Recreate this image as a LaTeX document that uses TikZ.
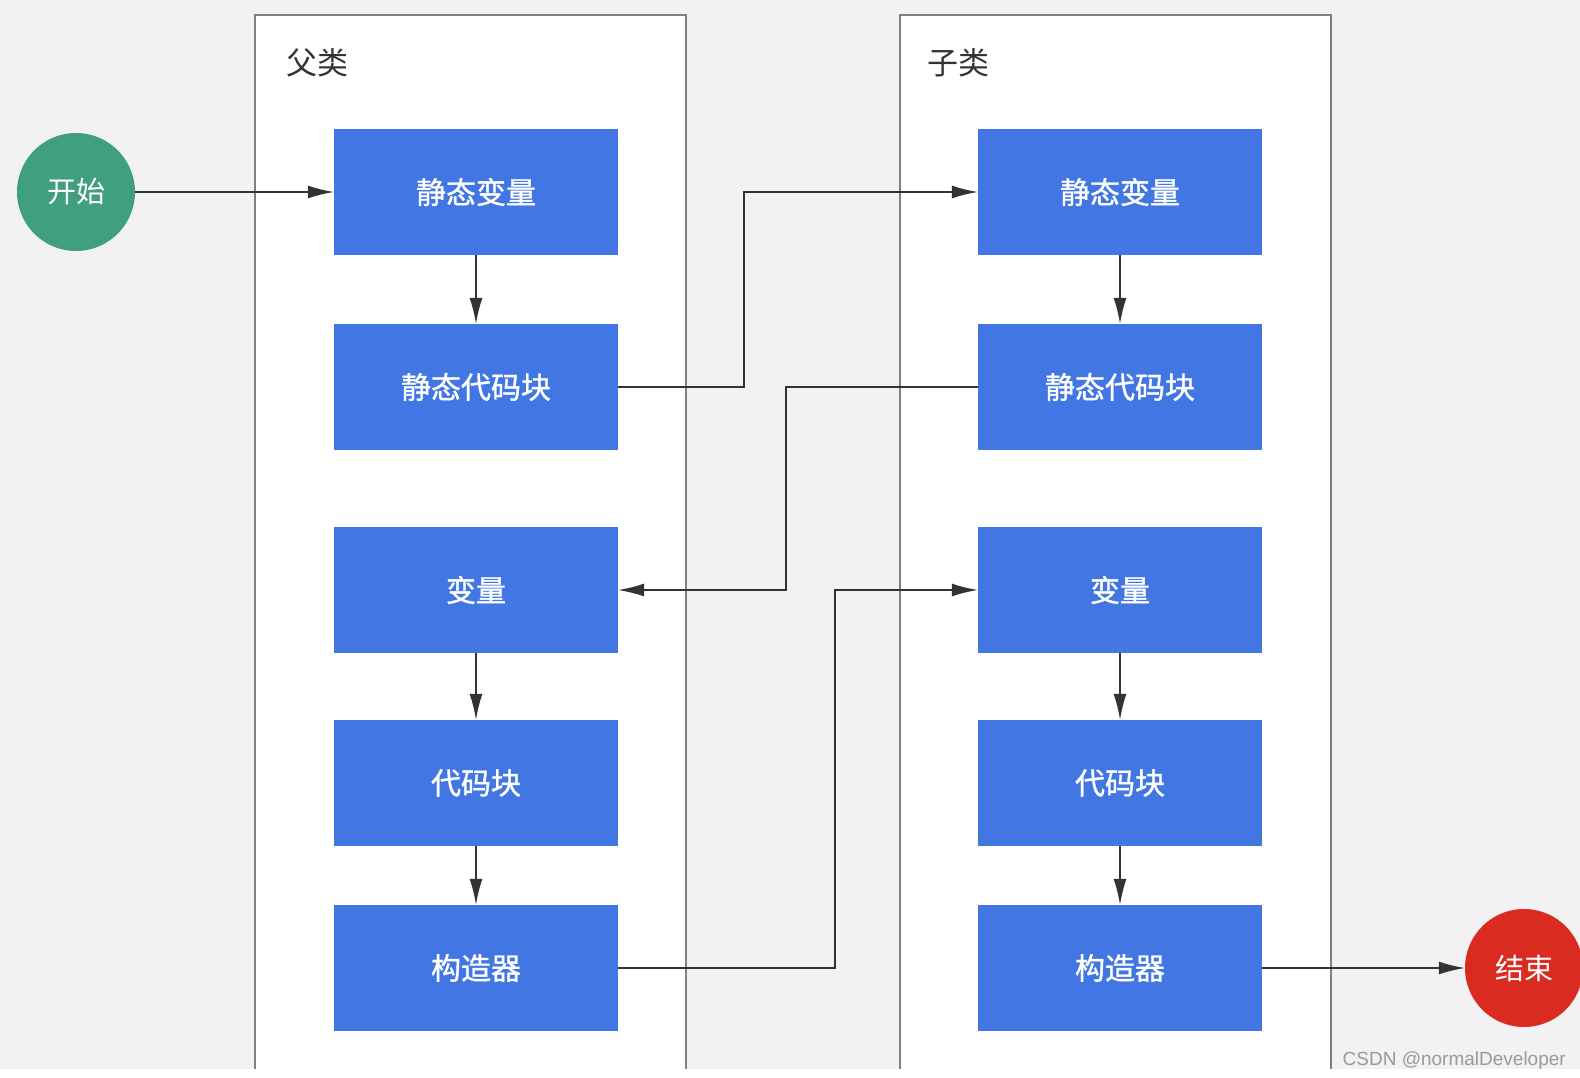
\documentclass[tikz,border=0pt]{standalone}
\usepackage{fontspec}
\setmainfont{Liberation Sans}
\newfontfamily\cjk{Noto Sans CJK SC}
\newfontfamily\cjkgras[FakeBold=1.2]{Noto Sans CJK SC}
\usetikzlibrary{arrows.meta}
\definecolor{fond}{HTML}{F2F2F2}
\definecolor{bleu}{HTML}{4277E3}
\definecolor{vert}{HTML}{3F9F7F}
\definecolor{rouge}{HTML}{D92B20}
\definecolor{trait}{HTML}{333333}
\definecolor{cadre}{HTML}{808080}

\begin{document}
\begin{tikzpicture}[x=1pt, y=-1pt]
\tikzset{bloc/.style={fill=bleu, text=white, minimum width=284pt, minimum height=126pt, inner sep=0pt, font=\cjkgras\fontsize{30}{30}\selectfont}}
\tikzset{rond/.style={circle, text=white, minimum size=118pt, inner sep=0pt, font=\cjk\fontsize{29}{29}\selectfont}}
\tikzset{fleche/.style={draw=trait, line width=1.5pt, -{Latex[length=26pt, width=13pt]}}}
\tikzset{boite/.style={fill=white, draw=cadre, line width=2.5pt}}
\fill[fond] (0, 0) rectangle (1580, 1078);
\fill[white] (0, 1069) rectangle (1580, 1078);
\useasboundingbox (0, 0) rectangle (1580, 1078);
% les deux classes
\filldraw[boite] (255, 1069) -- (255, 15) -- (686, 15) -- (686, 1069);
\filldraw[boite] (900, 1069) -- (900, 15) -- (1331, 15) -- (1331, 1069);
\node[anchor=west, text=trait, font=\cjk\fontsize{31}{31}\selectfont] (pere) at (283, 63) {父类};
\node[anchor=west, text=trait, font=\cjk\fontsize{31}{31}\selectfont] (fils) at (924, 63) {子类};
\node[rond, fill=vert] (debut) at (76, 192) {开始};
\node[rond, fill=rouge] (fin) at (1524, 968) {结束};
\node[bloc] (P1) at (476, 192) {静态变量};
\node[bloc] (P2) at (476, 387) {静态代码块};
\node[bloc] (P3) at (476, 590) {变量};
\node[bloc] (P4) at (476, 783) {代码块};
\node[bloc] (P5) at (476, 968) {构造器};
\node[bloc] (C1) at (1120, 192) {静态变量};
\node[bloc] (C2) at (1120, 387) {静态代码块};
\node[bloc] (C3) at (1120, 590) {变量};
\node[bloc] (C4) at (1120, 783) {代码块};
\node[bloc] (C5) at (1120, 968) {构造器};
\draw[fleche] (debut) -- (P1);
\draw[fleche] (P1) -- (P2);
\draw[fleche] (P2.east) -- (744, 387) |- (C1.west);
\draw[fleche] (C1) -- (C2);
\draw[fleche] (C2.west) -- (786, 387) |- (P3.east);
\draw[fleche] (P3) -- (P4);
\draw[fleche] (P4) -- (P5);
\draw[fleche] (P5.east) -- (835, 968) |- (C3.west);
\draw[fleche] (C3) -- (C4);
\draw[fleche] (C4) -- (C5);
\draw[fleche] (C5) -- (fin);
\node[anchor=base east, text=gray!80, font=\fontsize{19}{19}\selectfont, inner sep=0pt] (csdn) at (1566, 1065) {CSDN @normalDeveloper};
\end{tikzpicture}
\end{document}
